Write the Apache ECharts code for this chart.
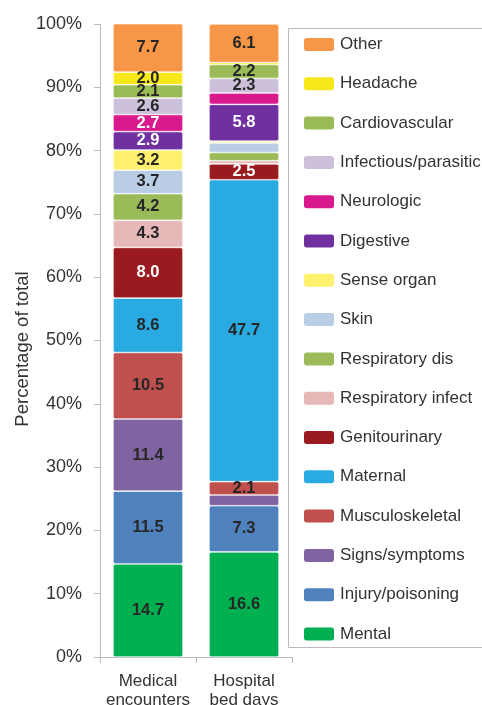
<!DOCTYPE html>
<html>
<head>
<meta charset="utf-8">
<script src="https://cdn.jsdelivr.net/npm/echarts@6/dist/echarts.min.js"></script>
<style>
  html, body { margin: 0; padding: 0; background: #fff; }
  #main { width: 482px; height: 705px; }
</style>
</head>
<body>
<div id="main"></div>
<script>
// categories on the x axis
const categories = ['Medical\nencounters', 'Hospital\nbed days'];

// stack order, bottom to top
const groups = ['Mental', 'Injury/poisoning', 'Signs/symptoms', 'Musculoskeletal', 'Maternal',
  'Genitourinary', 'Respiratory infect', 'Respiratory dis', 'Skin', 'Sense organ',
  'Digestive', 'Neurologic', 'Infectious/parasitic', 'Cardiovascular', 'Headache', 'Other'];

const medical = [14.7, 11.5, 11.4, 10.5, 8.6, 8.0, 4.3, 4.2, 3.7, 3.2, 2.9, 2.7, 2.6, 2.1, 2.0, 7.7];
const hospital = [16.6, 7.3, 1.7, 2.1, 47.7, 2.5, 0.5, 1.3, 1.5, 0.3, 5.8, 1.8, 2.3, 2.2, 0.3, 6.1];

const colors = ['#00b050', '#4f81bd', '#8064a2', '#c0504d', '#29abe2',
  '#9a1b1f', '#e6b9b8', '#9bbb59', '#b9cde5', '#fff06e',
  '#7030a0', '#d91a8c', '#ccc0da', '#9bbb59', '#f7e81b', '#f79646'];

// segments with white labels
const whiteLabel = ['Genitourinary', 'Digestive', 'Neurologic'];

const yTicks = [0, 10, 20, 30, 40, 50, 60, 70, 80, 90, 100];

const myChart = echarts.init(document.getElementById('main'));

const series = [];
for (let i = 0; i < groups.length; i++) {
  series.push({
    name: groups[i],
    type: 'bar',
    stack: 'total',
    barWidth: 70,
    data: [medical[i], hospital[i]],
    itemStyle: {
      color: colors[i],
      borderRadius: 2,
      borderColor: '#fff',
      borderWidth: 0.6
    },
    label: {
      show: true,
      position: 'inside',
      fontFamily: 'Liberation Sans',
      fontSize: 16.5,
      fontWeight: 'bold',
      color: whiteLabel.indexOf(groups[i]) >= 0 ? '#fff' : '#262626',
      formatter: function (p) {
        return p.value >= 2 ? p.value.toFixed(1) : '';
      }
    }
  });
}

const option = {
  animation: false,
  textStyle: { fontFamily: 'Liberation Sans' },
  grid: { left: 100, right: 190, top: 24, bottom: 48, containLabel: false, outerBoundsMode: 'none' },
  legend: {
    orient: 'vertical',
    left: 297,
    top: 31,
    data: groups.slice().reverse(),
    itemWidth: 32,
    itemHeight: 15,
    itemGap: 22.3,
    icon: 'roundRect',
    textStyle: { fontSize: 17, color: '#333', lineHeight: 15, fontFamily: 'Liberation Sans' }
  },
  graphic: [{
    type: 'rect',
    shape: { x: 288.5, y: 28.5, width: 240, height: 619 },
    style: { fill: 'none', stroke: '#bbb', lineWidth: 1 },
    z: -1
  }],
  xAxis: {
    type: 'category',
    data: categories,
    axisLine: { lineStyle: { color: '#bbb' } },
    axisTick: { show: true, length: 6, lineStyle: { color: '#bbb' } },
    axisLabel: { interval: 0, fontSize: 17, color: '#333', lineHeight: 19, margin: 15 }
  },
  yAxis: {
    type: 'value',
    min: 0,
    max: 100,
    interval: 10,
    name: 'Percentage of total',
    nameLocation: 'middle',
    nameGap: 65,
    nameTextStyle: { fontSize: 18.5, color: '#333', padding: [0, 17, 0, 0] },
    axisLine: { show: true, lineStyle: { color: '#bbb' } },
    axisTick: { show: true, length: 6, lineStyle: { color: '#bbb' } },
    splitLine: { show: false },
    axisLabel: {
      fontSize: 18,
      color: '#333',
      margin: 18,
      formatter: function (v) {
        return yTicks.indexOf(v) >= 0 ? v + '%' : '';
      }
    }
  },
  series: series
};

myChart.setOption(option);
</script>
</body>
</html>
